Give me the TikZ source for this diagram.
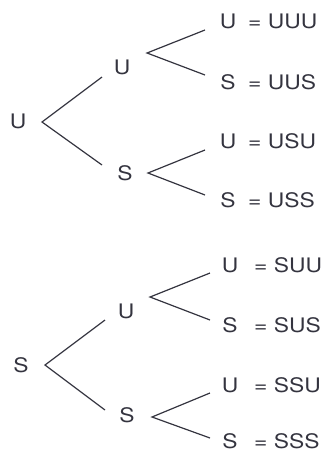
\documentclass[tikz,border=0pt]{standalone}
\usepackage{fontspec}
\setmainfont{TeX Gyre Heros}[FakeStretch=1.14]
\usetikzlibrary{positioning}
\definecolor{Ink}{HTML}{34343F}

\begin{document}
\begin{tikzpicture}[x=1pt,y=-1pt,
    letter/.style={inner sep=0pt,text=Ink,font=\fontsize{20}{20}\selectfont},
    result/.style={letter,anchor=west},
    branch/.style={Ink,line width=1.2pt}]
  \useasboundingbox (0,0) rectangle (324,453);

  % first toss: U
  \node[letter] (u) at (18,121) {U};
  \node[letter] (uu) at (122,67) {U};
  \node[letter] (us) at (125,173) {S};
  \coordinate (u-fork) at (42,122);
  \coordinate (u-up) at (102,77);
  \coordinate (u-dn) at (102,165);
  \draw[branch] (u-up) -- (u-fork) -- (u-dn);

  \node[letter] (uuu) at (228,21.5) {U};
  \node[result] (uuu-r) at (248,21.5) {= UUU};
  \node[letter] (uus) at (228,82.5) {S};
  \node[result] (uus-r) at (248,82.5) {= UUS};
  \coordinate (uu-fork) at (147,53);
  \coordinate (uu-up) at (205,30);
  \coordinate (uu-dn) at (205,75);
  \draw[branch] (uu-up) -- (uu-fork) -- (uu-dn);

  \node[letter] (usu) at (228,141.5) {U};
  \node[result] (usu-r) at (248,141.5) {= USU};
  \node[letter] (uss) at (228,200.5) {S};
  \node[result] (uss-r) at (248,200.5) {= USS};
  \coordinate (us-fork) at (148,173);
  \coordinate (us-up) at (205,150);
  \coordinate (us-dn) at (205,195);
  \draw[branch] (us-up) -- (us-fork) -- (us-dn);

  % first toss: S
  \node[letter] (s) at (21,365) {S};
  \node[letter] (su) at (126,311) {U};
  \node[letter] (ss) at (127,415) {S};
  \coordinate (s-fork) at (45,365);
  \coordinate (s-up) at (105,320);
  \coordinate (s-dn) at (105,410);
  \draw[branch] (s-up) -- (s-fork) -- (s-dn);

  \node[letter] (suu) at (230,265.5) {U};
  \node[result] (suu-r) at (254,265.5) {= SUU};
  \node[letter] (sus) at (230,325.5) {S};
  \node[result] (sus-r) at (254,325.5) {= SUS};
  \coordinate (su-fork) at (150,297);
  \coordinate (su-up) at (210,273);
  \coordinate (su-dn) at (210,320);
  \draw[branch] (su-up) -- (su-fork) -- (su-dn);

  \node[letter] (ssu) at (230,385) {U};
  \node[result] (ssu-r) at (254,385) {= SSU};
  \node[letter] (sss) at (230,441.5) {S};
  \node[result] (sss-r) at (254,441.5) {= SSS};
  \coordinate (ss-fork) at (152,417);
  \coordinate (ss-up) at (210,393);
  \coordinate (ss-dn) at (210,438);
  \draw[branch] (ss-up) -- (ss-fork) -- (ss-dn);
\end{tikzpicture}
\end{document}
